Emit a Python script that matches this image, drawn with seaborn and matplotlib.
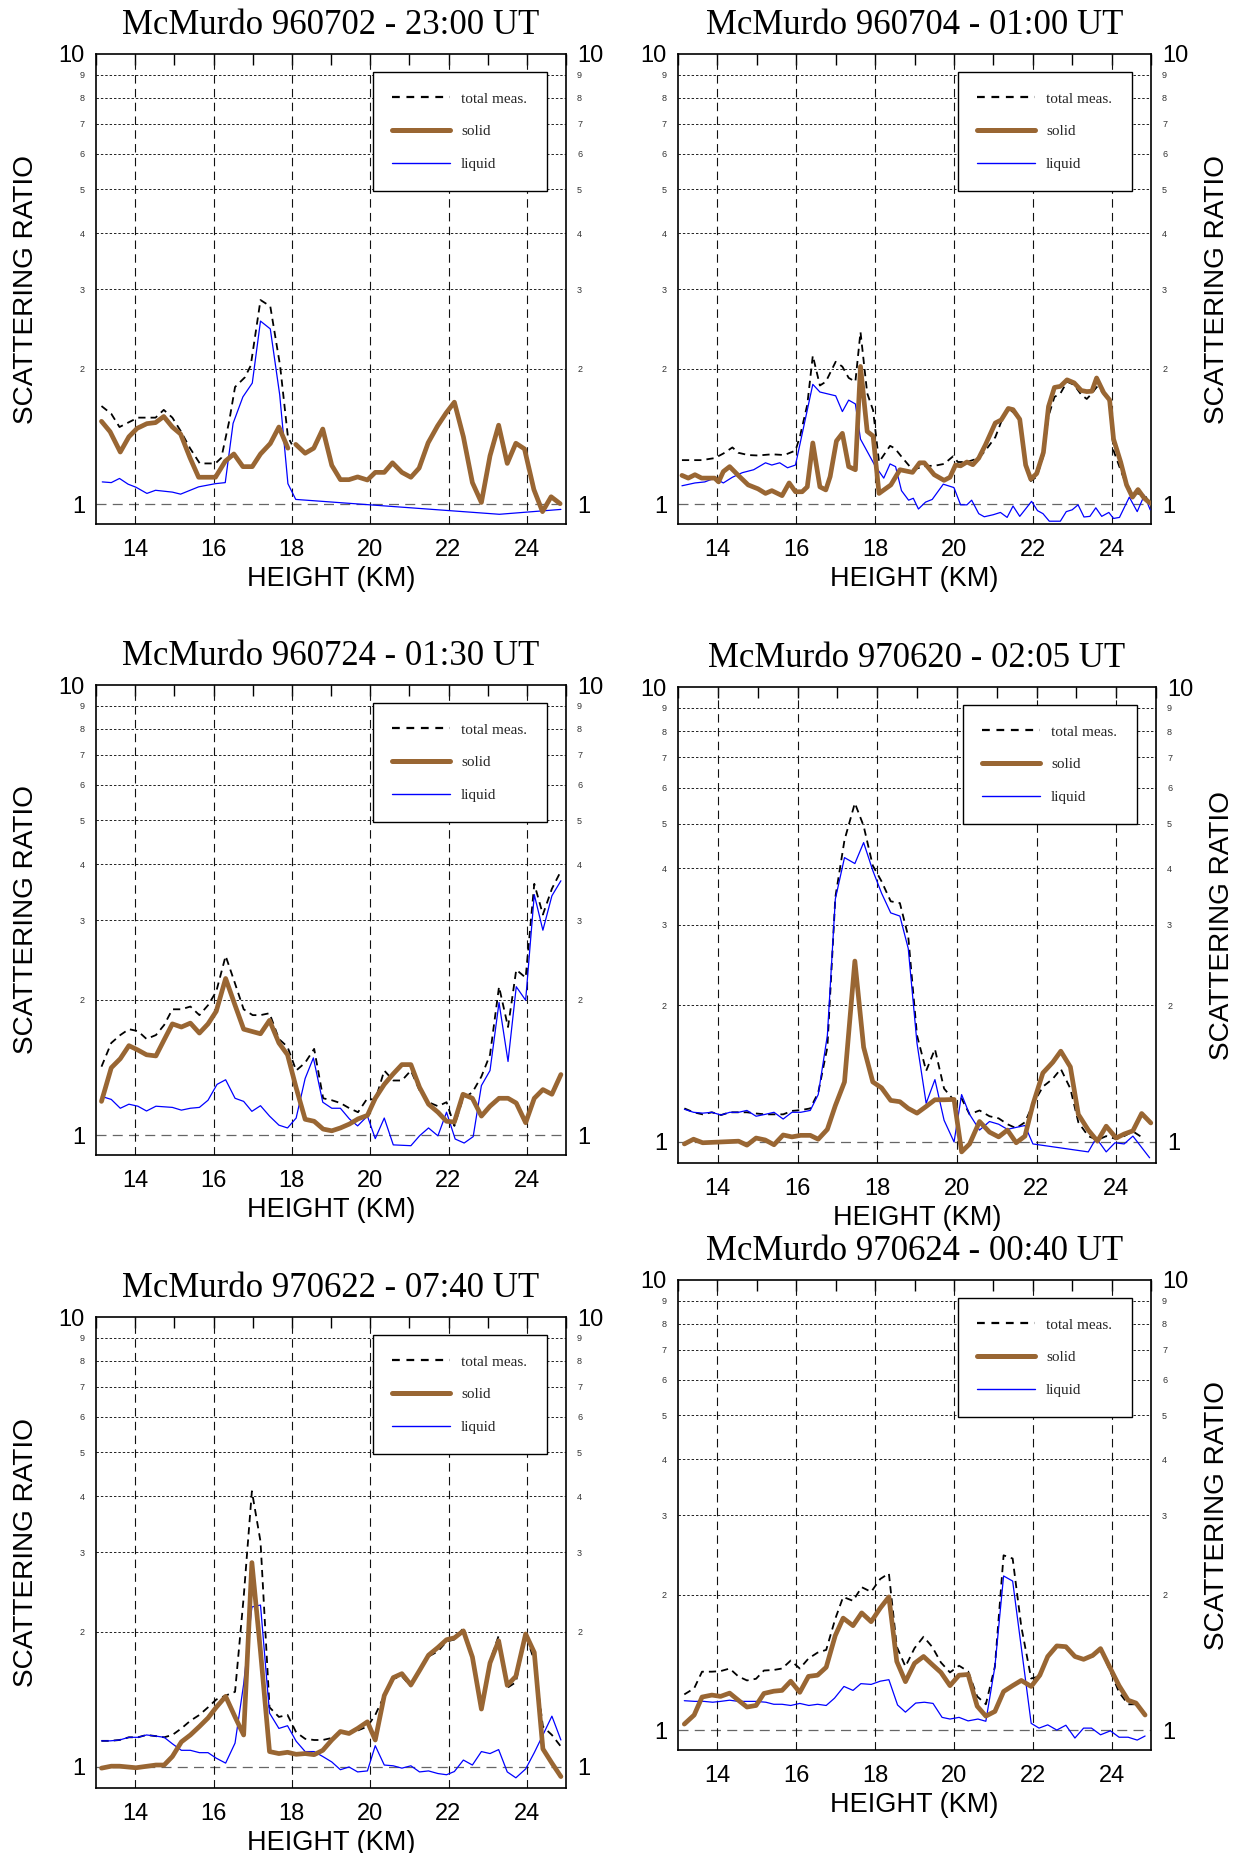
import matplotlib
matplotlib.use("Agg")
import matplotlib.pyplot as plt
import seaborn as sns
from matplotlib.lines import Line2D
from matplotlib.ticker import MultipleLocator

# ---------------- data ----------------
titles = ["McMurdo 960702 - 23:00 UT", "McMurdo 960704 - 01:00 UT",
          "McMurdo 960724 - 01:30 UT", "McMurdo 970620 - 02:05 UT",
          "McMurdo 970622 - 07:40 UT", "McMurdo 970624 - 00:40 UT"]
legend_labels = ["total meas.", "solid", "liquid"]
x_ticks = [14, 16, 18, 20, 22, 24]

# Panel 1 : 960702
p1_liq_x = [13.16, 13.39, 13.6, 13.82, 14.02, 14.3, 14.52, 14.95, 15.16, 15.62, 16.05, 16.3, 16.5, 16.75, 16.99,
            17.2, 17.45, 17.69, 17.9, 18.1, 23.3, 24.87]
p1_liq_y = [1.12, 1.116, 1.14, 1.107, 1.09, 1.056, 1.073, 1.063, 1.052, 1.092, 1.11, 1.116, 1.511, 1.73, 1.857,
            2.55, 2.45, 1.75, 1.11, 1.024, 0.949, 0.973]
p1_sol_x = [13.14, 13.36, 13.62, 13.84, 14.05, 14.3, 14.52, 14.73, 14.95, 15.16, 15.4, 15.62, 16.05, 16.3, 16.52,
            16.75, 16.99, 17.2, 17.45, 17.67, 17.9,
            18.1, 18.34, 18.56, 18.79, 19.02, 19.24, 19.46, 19.68, 19.93, 20.13, 20.36, 20.57, 20.81, 21.04, 21.25,
            21.48, 21.72, 21.94, 22.15, 22.38, 22.61, 22.84, 23.06, 23.28, 23.5, 23.72, 23.94, 24.18, 24.4, 24.62, 24.85]
p1_sol_y = [1.527, 1.448, 1.305, 1.411, 1.473, 1.509, 1.517, 1.565, 1.483, 1.431, 1.267, 1.147, 1.147, 1.245, 1.292,
            1.211, 1.211, 1.292, 1.363, 1.483, 1.331,
            1.357, 1.297, 1.331, 1.468, 1.219, 1.133, 1.133, 1.149, 1.131, 1.176, 1.176, 1.235, 1.176, 1.147, 1.202,
            1.368, 1.491, 1.594, 1.684, 1.411, 1.116, 1.008, 1.28, 1.497, 1.231, 1.365, 1.326, 1.077, 0.962, 1.038, 1.002]
p1_tot_x = [13.14, 13.39, 13.6, 13.84, 14.07, 14.3, 14.52, 14.73, 14.95, 15.16, 15.4, 15.65, 16.05, 16.2, 16.4,
            16.55, 16.8, 16.95, 17.2, 17.45, 17.7, 17.9, 18.0]
p1_tot_y = [1.651, 1.587, 1.483, 1.52, 1.556, 1.556, 1.556, 1.619, 1.556, 1.454, 1.331, 1.231, 1.231, 1.267, 1.527,
            1.82, 1.912, 2.03, 2.84, 2.75, 2.03, 1.41, 1.357]

# Panel 2 : 960704
p2_liq_x = [13.1, 13.43, 13.68, 13.93, 14.15, 14.38, 14.63, 14.92, 15.22, 15.38, 15.58, 15.78, 15.98, 16.42, 16.6,
            17.0, 17.17, 17.33, 17.5, 17.63, 18.0, 18.22, 18.38, 18.52, 18.67, 18.85, 18.97, 19.1, 19.28, 19.45,
            19.73, 20.0, 20.17, 20.33, 20.45, 20.63, 20.77, 21.0, 21.18, 21.35, 21.5, 21.67, 21.97, 22.12, 22.26,
            22.42, 22.7, 22.85, 23.0, 23.15, 23.3, 23.45, 23.6, 23.75, 23.93, 24.05, 24.2, 24.45, 24.65, 24.83, 24.98]
p2_liq_y = [1.098, 1.114, 1.12, 1.142, 1.114, 1.147, 1.174, 1.192, 1.235, 1.221, 1.235, 1.204, 1.221, 1.845, 1.774,
            1.74, 1.605, 1.702, 1.669, 1.394, 1.216, 1.142, 1.228, 1.211, 1.071, 1.02, 1.03, 0.975, 1.01, 1.024,
            1.107, 1.088, 0.996, 0.996, 1.02, 0.952, 0.937, 0.947, 0.958, 0.934, 0.99, 0.939, 1.014, 0.967, 0.952,
            0.916, 0.916, 0.962, 0.971, 0.996, 0.936, 0.939, 0.981, 0.939, 0.958, 0.929, 0.934, 1.036, 0.962, 1.046, 0.971]
p2_sol_x = [13.1, 13.26, 13.43, 13.6, 13.93, 14.03, 14.15, 14.31, 14.53, 14.78, 15.03, 15.22, 15.38, 15.64, 15.82,
            15.98, 16.15, 16.28, 16.42, 16.6, 16.75, 16.86, 17.02, 17.17, 17.33, 17.5, 17.63, 17.8, 17.95, 18.1,
            18.4, 18.63, 18.95, 19.13, 19.25, 19.5, 19.75, 19.9, 20.04, 20.17, 20.33, 20.48, 20.63, 20.8, 21.05,
            21.2, 21.38, 21.5, 21.67, 21.82, 21.95, 22.1, 22.27, 22.4, 22.55, 22.7, 22.87, 23.05, 23.23, 23.37,
            23.5, 23.62, 23.8, 23.95, 24.05, 24.23, 24.38, 24.53, 24.67, 24.83, 24.98]
p2_sol_y = [1.158, 1.142, 1.162, 1.142, 1.142, 1.12, 1.181, 1.211, 1.158, 1.103, 1.081, 1.056, 1.071, 1.044, 1.114,
            1.065, 1.065, 1.092, 1.367, 1.092, 1.075, 1.151, 1.381, 1.436, 1.211, 1.192, 2.022, 1.45, 1.416, 1.056,
            1.103, 1.192, 1.176, 1.235, 1.235, 1.162, 1.129, 1.147, 1.221, 1.216, 1.24, 1.223, 1.265, 1.354, 1.514,
            1.538, 1.631, 1.621, 1.543, 1.221, 1.136, 1.169, 1.302, 1.647, 1.816, 1.826, 1.888, 1.859, 1.788, 1.778,
            1.781, 1.906, 1.768, 1.703, 1.394, 1.24, 1.103, 1.036, 1.077, 1.03, 1.004]
p2_tot_x = [13.1, 13.6, 13.93, 14.15, 14.38, 14.53, 14.78, 15.03, 15.38, 15.7, 15.98, 16.1, 16.28, 16.42, 16.6,
            16.75, 17.0, 17.17, 17.33, 17.5, 17.63, 17.8, 17.95, 18.1, 18.38, 18.5, 18.7, 18.95, 19.3, 19.5,
            19.75, 19.98, 20.1, 20.33, 20.63, 20.8, 21.05, 21.2, 21.38, 21.5, 21.67, 21.82, 21.95, 22.1, 22.27,
            22.4, 22.55, 22.7, 22.87, 23.05, 23.23, 23.37, 23.5, 23.62, 23.8, 23.95, 24.05, 24.23, 24.38, 24.53,
            24.67, 24.83, 24.98]
p2_tot_y = [1.252, 1.252, 1.265, 1.295, 1.336, 1.30, 1.285, 1.282, 1.29, 1.285, 1.315, 1.42, 1.663, 2.137, 1.834,
            1.87, 2.071, 2.02, 1.907, 1.87, 2.412, 1.763, 1.615, 1.24, 1.347, 1.33, 1.265, 1.192, 1.216, 1.216,
            1.228, 1.277, 1.24, 1.24, 1.265, 1.315, 1.408, 1.523, 1.631, 1.60, 1.543, 1.21, 1.125, 1.15, 1.28,
            1.568, 1.73, 1.76, 1.87, 1.84, 1.75, 1.712, 1.76, 1.82, 1.76, 1.68, 1.315, 1.19, 1.10, 1.065,
            1.055, 1.05, 1.0]

# Panel 3 : 960724
p3_liq_x = [13.14, 13.39, 13.62, 13.84, 14.07, 14.29, 14.53, 14.95, 15.18, 15.41, 15.64, 15.86, 16.09, 16.31, 16.55,
            16.77, 16.98, 17.2, 17.43, 17.67, 17.89, 18.11, 18.34, 18.55, 18.79, 19.02, 19.24, 19.47, 19.68, 19.93,
            20.13, 20.36, 20.59, 21.04, 21.26, 21.49, 21.73, 21.95, 22.17, 22.4, 22.63, 22.84, 23.06, 23.29, 23.52,
            23.73, 23.97, 24.19, 24.41, 24.64, 24.87]
p3_liq_y = [1.219, 1.2, 1.147, 1.171, 1.159, 1.131, 1.159, 1.152, 1.136, 1.147, 1.152, 1.195, 1.296, 1.327, 1.207,
            1.188, 1.129, 1.162, 1.102, 1.052, 1.037, 1.091, 1.336, 1.484, 1.183, 1.147, 1.147, 1.086, 1.048, 1.102,
            0.982, 1.091, 0.951, 0.947, 0.996, 1.037, 0.996, 1.124, 0.98, 0.96, 0.992, 1.288, 1.391, 1.97, 1.457,
            2.136, 1.993, 3.422, 2.852, 3.401, 3.673]
p3_sol_x = [13.14, 13.39, 13.62, 13.84, 14.07, 14.29, 14.53, 14.74, 14.95, 15.18, 15.41, 15.64, 15.86, 16.07, 16.31,
            16.55, 16.77, 17.2, 17.43, 17.67, 17.89, 18.11, 18.34, 18.57, 18.8, 19.02, 19.24, 19.47, 19.69, 19.93,
            20.13, 20.36, 20.59, 20.81, 21.04, 21.26, 21.49, 21.73, 21.95, 22.15, 22.37, 22.61, 22.84, 23.06, 23.29,
            23.52, 23.73, 23.97, 24.19, 24.41, 24.64, 24.87]
p3_sol_y = [1.188, 1.411, 1.478, 1.58, 1.545, 1.508, 1.499, 1.628, 1.766, 1.738, 1.773, 1.685, 1.766, 1.884, 2.228,
            1.943, 1.719, 1.679, 1.798, 1.602, 1.508, 1.274, 1.084, 1.073, 1.031, 1.022, 1.037, 1.058, 1.086, 1.106,
            1.207, 1.296, 1.368, 1.434, 1.434, 1.277, 1.171, 1.124, 1.073, 1.069, 1.232, 1.207, 1.102, 1.159, 1.207,
            1.207, 1.178, 1.065, 1.207, 1.262, 1.232, 1.363]
p3_tot_x = [13.14, 13.39, 13.62, 13.84, 14.07, 14.29, 14.53, 14.74, 14.95, 15.18, 15.41, 15.64, 15.86, 16.07, 16.31,
            16.55, 16.77, 17.0, 17.2, 17.43, 17.67, 17.89, 18.11, 18.34, 18.57, 18.8, 19.02, 19.24, 19.47, 19.69,
            19.93, 20.13, 20.36, 20.59, 20.81, 21.04, 21.26, 21.49, 21.73, 21.95, 22.15, 22.37, 22.61, 22.84, 23.06,
            23.29, 23.52, 23.73, 23.97, 24.19, 24.41, 24.64, 24.87]
p3_tot_y = [1.419, 1.602, 1.668, 1.719, 1.702, 1.635, 1.668, 1.756, 1.903, 1.903, 1.93, 1.847, 1.943, 2.084, 2.5,
            2.171, 1.903, 1.847, 1.847, 1.865, 1.635, 1.57, 1.391, 1.448, 1.554, 1.207, 1.195, 1.178, 1.147, 1.124,
            1.207, 1.195, 1.391, 1.322, 1.322, 1.391, 1.257, 1.183, 1.159, 1.183, 1.048, 1.207, 1.244, 1.349, 1.508,
            2.136, 1.738, 2.33, 2.237, 3.616, 3.09, 3.526, 3.86]

# Panel 4 : 970620
p4_liq_x = [13.16, 13.39, 13.62, 13.85, 14.08, 14.3, 14.52, 14.73, 14.96, 15.19, 15.41, 15.64, 15.86, 16.08, 16.32,
            16.52, 16.75, 16.95, 17.18, 17.44, 17.66, 17.89, 18.11, 18.34, 18.57, 18.78, 19.0, 19.23, 19.45, 19.68,
            19.93, 20.12, 20.32, 20.57, 20.82, 21.05, 21.27, 21.71, 21.91, 23.3, 23.5, 23.75, 23.97, 24.2, 24.42, 24.84]
p4_liq_y = [1.18, 1.162, 1.157, 1.162, 1.146, 1.162, 1.162, 1.173, 1.139, 1.15, 1.162, 1.123, 1.162, 1.162, 1.173,
            1.271, 1.716, 3.42, 4.217, 4.092, 4.55, 3.95, 3.523, 3.188, 3.137, 2.663, 1.648, 1.216, 1.371, 1.116,
            1.0, 1.271, 1.15, 1.062, 1.109, 1.094, 1.066, 1.087, 0.99, 0.951, 1.02, 0.951, 0.996, 0.99, 1.03, 0.923]
p4_sol_x = [13.16, 13.39, 13.62, 14.08, 14.52, 14.73, 14.96, 15.19, 15.41, 15.64, 15.86, 16.08, 16.32, 16.52, 16.75,
            16.95, 17.18, 17.44, 17.66, 17.89, 18.11, 18.34, 18.57, 18.78, 19.0, 19.23, 19.45, 19.68, 19.93, 20.12,
            20.32, 20.57, 20.82, 21.05, 21.27, 21.49, 21.71, 21.91, 22.16, 22.41, 22.61, 22.85, 23.05, 23.3, 23.53,
            23.75, 24.0, 24.2, 24.42, 24.64, 24.87]
p4_sol_y = [0.99, 1.014, 0.996, 1.0, 1.004, 0.984, 1.02, 1.01, 0.986, 1.036, 1.026, 1.034, 1.034, 1.014, 1.066,
            1.202, 1.355, 2.498, 1.615, 1.355, 1.315, 1.234, 1.226, 1.185, 1.157, 1.197, 1.238, 1.238, 1.24, 0.951,
            0.99, 1.109, 1.051, 1.026, 1.062, 0.996, 1.03, 1.209, 1.418, 1.497, 1.583, 1.462, 1.15, 1.062, 1.004,
            1.083, 1.02, 1.041, 1.058, 1.155, 1.101]
p4_tot_x = [13.16, 13.39, 13.62, 13.85, 14.08, 14.3, 14.52, 14.73, 14.96, 15.19, 15.41, 15.64, 15.86, 16.08, 16.32,
            16.52, 16.75, 16.95, 17.18, 17.44, 17.66, 17.89, 18.11, 18.34, 18.57, 18.78, 19.0, 19.23, 19.45, 19.68,
            19.93, 20.12, 20.32, 20.57, 20.82, 21.05, 21.27, 21.49, 21.71, 21.91, 22.16, 22.41, 22.61, 22.85, 23.05,
            23.3, 23.53, 23.75, 24.0, 24.2, 24.42, 24.64]
p4_tot_y = [1.185, 1.162, 1.15, 1.162, 1.146, 1.162, 1.162, 1.162, 1.155, 1.15, 1.15, 1.15, 1.17, 1.175, 1.185,
            1.283, 1.615, 3.45, 4.61, 5.556, 4.95, 4.05, 3.74, 3.38, 3.35, 2.83, 1.715, 1.433, 1.6, 1.31,
            1.234, 1.246, 1.15, 1.173, 1.139, 1.127, 1.094, 1.072, 1.105, 1.209, 1.323, 1.377, 1.447, 1.31, 1.105,
            1.03, 1.01, 1.03, 1.015, 1.03, 1.055, 1.025]

# Panel 5 : 970622
p5_liq_x = [13.14, 13.36, 13.6, 13.84, 14.07, 14.29, 14.53, 14.74, 14.95, 15.18, 15.41, 15.64, 15.86, 16.07, 16.31,
            16.55, 16.77, 16.98, 17.2, 17.43, 17.67, 17.89, 18.11, 18.34, 18.57, 18.79, 19.02, 19.24, 19.46, 19.68,
            19.93, 20.13, 20.36, 20.59, 20.81, 21.04, 21.26, 21.49, 21.73, 21.95, 22.15, 22.38, 22.61, 22.84, 23.06,
            23.28, 23.5, 23.72, 23.97, 24.19, 24.41, 24.64, 24.87]
p5_liq_y = [1.143, 1.143, 1.148, 1.164, 1.164, 1.178, 1.171, 1.164, 1.126, 1.089, 1.089, 1.076, 1.076, 1.046, 1.02,
            1.13, 1.528, 2.268, 2.29, 1.318, 1.218, 1.235, 1.141, 1.082, 1.082, 1.055, 1.026, 0.986, 1.0, 0.975,
            0.98, 1.115, 1.01, 1.006, 0.994, 1.006, 0.975, 0.98, 0.967, 0.961, 0.977, 1.036, 1.01, 1.082, 1.071,
            1.093, 0.975, 0.946, 0.99, 1.076, 1.178, 1.297, 1.148]
p5_sol_x = [13.14, 13.39, 13.6, 14.02, 14.53, 14.74, 14.95, 15.18, 15.41, 15.64, 15.86, 16.07, 16.31, 16.55, 16.77,
            16.98, 17.2, 17.43, 17.67, 17.89, 18.11, 18.34, 18.57, 18.79, 19.02, 19.24, 19.46, 19.68, 19.93, 20.13,
            20.36, 20.59, 20.81, 21.04, 21.26, 21.49, 21.73, 21.95, 22.15, 22.38, 22.61, 22.84, 23.06, 23.28, 23.5,
            23.72, 23.97, 24.19, 24.41, 24.64, 24.87]
p5_sol_y = [0.994, 1.004, 1.004, 0.996, 1.01, 1.01, 1.055, 1.137, 1.178, 1.23, 1.285, 1.357, 1.435, 1.292, 1.178,
            2.846, 1.807, 1.082, 1.071, 1.078, 1.067, 1.071, 1.065, 1.089, 1.148, 1.199, 1.187, 1.218, 1.26, 1.148,
            1.441, 1.58, 1.612, 1.522, 1.638, 1.772, 1.843, 1.918, 1.936, 2.007, 1.755, 1.345, 1.703, 1.907, 1.519,
            1.59, 1.975, 1.797, 1.097, 1.02, 0.952]
p5_tot_x = [13.14, 13.36, 13.6, 13.84, 14.07, 14.29, 14.53, 14.74, 14.95, 15.18, 15.41, 15.64, 15.86, 16.07, 16.31,
            16.55, 16.77, 16.98, 17.2, 17.43, 17.67, 17.89, 18.11, 18.34, 18.57, 18.79, 19.02, 19.24, 19.46, 19.68,
            19.93, 20.13, 20.36, 20.59, 20.81, 21.04, 21.26, 21.49, 21.73, 21.95, 22.15, 22.38, 22.61, 22.84, 23.06,
            23.28, 23.5, 23.72, 23.97, 24.19, 24.41, 24.64, 24.87]
p5_tot_y = [1.143, 1.143, 1.148, 1.164, 1.164, 1.178, 1.171, 1.164, 1.178, 1.218, 1.267, 1.305, 1.357, 1.412, 1.441,
            1.469, 2.382, 4.1, 3.17, 1.357, 1.292, 1.305, 1.194, 1.155, 1.148, 1.148, 1.16, 1.194, 1.187, 1.205,
            1.23, 1.305, 1.441, 1.57, 1.59, 1.51, 1.638, 1.76, 1.807, 1.9, 1.92, 2.036, 1.755, 1.345, 1.72,
            1.956, 1.499, 1.543, 1.975, 1.72, 1.23, 1.178, 1.11]

# Panel 6 : 970624
p6_liq_x = [13.16, 13.43, 13.66, 13.88, 14.08, 14.31, 14.53, 14.78, 14.98, 15.23, 15.43, 15.64, 15.86, 16.09, 16.32,
            16.54, 16.76, 16.97, 17.21, 17.44, 17.64, 17.9, 18.13, 18.35, 18.57, 18.77, 19.03, 19.25, 19.47, 19.7,
            19.9, 20.13, 20.36, 20.61, 20.81, 21.04, 21.26, 21.49, 21.96, 22.16, 22.38, 22.61, 22.84, 23.07, 23.29,
            23.49, 23.72, 23.97, 24.19, 24.42, 24.65, 24.85]
p6_liq_y = [1.162, 1.158, 1.158, 1.153, 1.158, 1.165, 1.158, 1.158, 1.158, 1.153, 1.141, 1.141, 1.134, 1.146, 1.134,
            1.141, 1.134, 1.177, 1.25, 1.225, 1.268, 1.263, 1.284, 1.294, 1.137, 1.096, 1.148, 1.153, 1.146, 1.067,
            1.058, 1.067, 1.048, 1.058, 1.046, 1.384, 2.2, 2.143, 1.035, 1.01, 1.027, 1.0, 1.025, 0.96, 1.01,
            1.01, 0.976, 0.996, 0.964, 0.964, 0.95, 0.97]
p6_sol_x = [13.16, 13.41, 13.61, 13.86, 14.08, 14.31, 14.53, 14.75, 14.98, 15.18, 15.43, 15.64, 15.86, 16.09, 16.31,
            16.54, 16.76, 16.99, 17.19, 17.44, 17.66, 17.9, 18.13, 18.35, 18.55, 18.77, 19.0, 19.23, 19.45, 19.67,
            19.9, 20.13, 20.36, 20.59, 20.81, 21.04, 21.26, 21.49, 21.71, 21.96, 22.18, 22.38, 22.61, 22.84, 23.07,
            23.29, 23.52, 23.72, 23.97, 24.19, 24.42, 24.62, 24.85]
p6_sol_y = [1.031, 1.08, 1.184, 1.196, 1.188, 1.208, 1.165, 1.125, 1.134, 1.206, 1.22, 1.225, 1.284, 1.213, 1.316,
            1.324, 1.379, 1.622, 1.773, 1.706, 1.821, 1.741, 1.866, 1.976, 1.421, 1.281, 1.407, 1.457, 1.398, 1.343,
            1.255, 1.324, 1.329, 1.13, 1.074, 1.1, 1.218, 1.255, 1.289, 1.25, 1.324, 1.457, 1.538, 1.532, 1.457,
            1.436, 1.465, 1.517, 1.37, 1.255, 1.165, 1.148, 1.08]
p6_tot_x = p6_sol_x
p6_tot_y = [1.2, 1.238, 1.348, 1.348, 1.352, 1.37, 1.316, 1.289, 1.3, 1.356, 1.36, 1.37, 1.427, 1.37, 1.442,
            1.486, 1.507, 1.767, 1.976, 1.937, 2.077, 2.028, 2.166, 2.229, 1.532, 1.384, 1.52, 1.612, 1.53, 1.413,
            1.343, 1.39, 1.35, 1.188, 1.141, 1.384, 2.445, 2.405, 1.696, 1.302, 1.316, 1.457, 1.545, 1.532, 1.45,
            1.436, 1.457, 1.51, 1.35, 1.213, 1.141, 1.141, 1.08]

panels = [
    (p1_tot_x, p1_tot_y, p1_liq_x, p1_liq_y, p1_sol_x, p1_sol_y),
    (p2_tot_x, p2_tot_y, p2_liq_x, p2_liq_y, p2_sol_x, p2_sol_y),
    (p3_tot_x, p3_tot_y, p3_liq_x, p3_liq_y, p3_sol_x, p3_sol_y),
    (p4_tot_x, p4_tot_y, p4_liq_x, p4_liq_y, p4_sol_x, p4_sol_y),
    (p5_tot_x, p5_tot_y, p5_liq_x, p5_liq_y, p5_sol_x, p5_sol_y),
    (p6_tot_x, p6_tot_y, p6_liq_x, p6_liq_y, p6_sol_x, p6_sol_y),
]

# ---------------- layout / style ----------------
W, H = 1238, 1853
# axes boxes in pixels: left, top, right, bottom, ymin
boxes = [(96, 54, 566, 524, 0.903), (678, 54, 1151, 524, 0.903),
         (96, 685, 566, 1155, 0.903), (678, 687, 1156, 1163, 0.899),
         (96, 1317, 566, 1788, 0.898), (678, 1280, 1151, 1750, 0.903)]
BROWN = "#996633"
BLUE = "#0000ff"
SERIF = ["Liberation Serif", "DejaVu Serif"]
SANS = ["Liberation Sans", "DejaVu Sans"]

sns.set_theme(style="white")
plt.rcParams["font.family"] = SANS

fig = plt.figure(figsize=(W / 100, H / 100), dpi=100)
fig.patch.set_facecolor("white")

for i, (tx, ty, lx, ly, sx, sy) in enumerate(panels):
    L, T, R, B, ymin = boxes[i]
    ax = fig.add_axes([L / W, 1 - B / H, (R - L) / W, (B - T) / H])
    ax.set_facecolor("white")
    ax.set_yscale("log")

    # grid lines
    for v in range(2, 10):
        ax.axhline(v, color="#222222", lw=0.7, ls=(0, (2.5, 2.0)), zorder=1)
    ax.axhline(1, color="#666666", lw=0.9, ls=(0, (8, 5)), zorder=1)
    for xv in x_ticks:
        ax.axvline(xv, color="#111111", lw=0.8, ls=(0, (7.6, 4.8)), zorder=1)

    # data
    sns.lineplot(x=tx, y=ty, ax=ax, color="black", lw=1.3, ls=(0, (4, 2.8)),
                 sort=False, estimator=None, zorder=2)
    sns.lineplot(x=lx, y=ly, ax=ax, color=BLUE, lw=0.9,
                 sort=False, estimator=None, zorder=3)
    if i == 0:
        n1 = sum(1 for v in sx if v < 18)
        sns.lineplot(x=sx[:n1], y=sy[:n1], ax=ax, color=BROWN, lw=3.4,
                     sort=False, estimator=None, zorder=4)
        sns.lineplot(x=sx[n1:], y=sy[n1:], ax=ax, color=BROWN, lw=3.4,
                     sort=False, estimator=None, zorder=4)
    else:
        sns.lineplot(x=sx, y=sy, ax=ax, color=BROWN, lw=3.4,
                     sort=False, estimator=None, zorder=4)

    ax.set_xlim(13, 25)
    ax.set_ylim(ymin, 10)
    ax.set_xlabel("")
    ax.set_ylabel("")

    # x ticks
    ax.set_xticks(x_ticks)
    ax.set_xticklabels([str(t) for t in x_ticks])
    ax.xaxis.set_minor_locator(MultipleLocator(1))
    ax.tick_params(axis="x", which="both", direction="in", top=True, bottom=False,
                   length=8, width=1, color="black", labelsize=17, pad=11,
                   labelcolor="black")

    # y ticks (both sides)
    ax.set_yticks([1, 10])
    ax.set_yticklabels(["1", "10"])
    ax.set_yticks(list(range(2, 10)), minor=True)
    ax.set_yticklabels([str(v) for v in range(2, 10)], minor=True)
    ax.tick_params(axis="y", which="both", left=True, right=True, labelleft=True,
                   labelright=True, length=0, pad=8)
    ax.tick_params(axis="y", which="major", labelsize=17, labelcolor="black")
    ax.tick_params(axis="y", which="minor", labelsize=6.5, labelcolor="#333333")

    for sp in ax.spines.values():
        sp.set_visible(True)
        sp.set_color("black")
        sp.set_linewidth(1.2)

    # titles and axis labels
    ax.annotate(titles[i], xy=(0.5, 1), xycoords="axes fraction", xytext=(0, 14.6),
                textcoords="offset points", ha="center", va="baseline",
                fontsize=25, family=SERIF, color="black")
    ax.annotate("HEIGHT (KM)", xy=(0.5, 0), xycoords="axes fraction", xytext=(0, -44.3),
                textcoords="offset points", ha="center", va="baseline",
                fontsize=19.5, family=SANS, color="black")
    if i % 2 == 0:
        ax.annotate("SCATTERING RATIO", xy=(0, 0.5), xycoords="axes fraction",
                    xytext=(-50.2, 0), textcoords="offset points", rotation=90,
                    ha="center", va="center", fontsize=20.2, family=SANS, color="black")
    else:
        ax.annotate("SCATTERING RATIO", xy=(1, 0.5), xycoords="axes fraction",
                    xytext=(47.7, 0), textcoords="offset points", rotation=90,
                    ha="center", va="center", fontsize=20.2, family=SANS, color="black")

    # legend
    handles = [Line2D([], [], color="black", lw=1.6, ls=(0, (3.5, 3))),
               Line2D([], [], color=BROWN, lw=3.6),
               Line2D([], [], color=BLUE, lw=1.0)]
    leg = ax.legend(handles, legend_labels, loc="upper right",
                    bbox_to_anchor=(1 - 19 / (R - L), 1 - 18 / (B - T)),
                    borderaxespad=0, handlelength=3.75, handletextpad=0.75,
                    borderpad=1.3, labelspacing=1.25, frameon=True, fancybox=False,
                    shadow=False, framealpha=1, edgecolor="black",
                    prop={"family": SERIF, "size": 11})
    leg.get_frame().set_linewidth(1.0)
    leg.set_zorder(10)

fig.savefig("out.png", dpi=100, facecolor="white")
